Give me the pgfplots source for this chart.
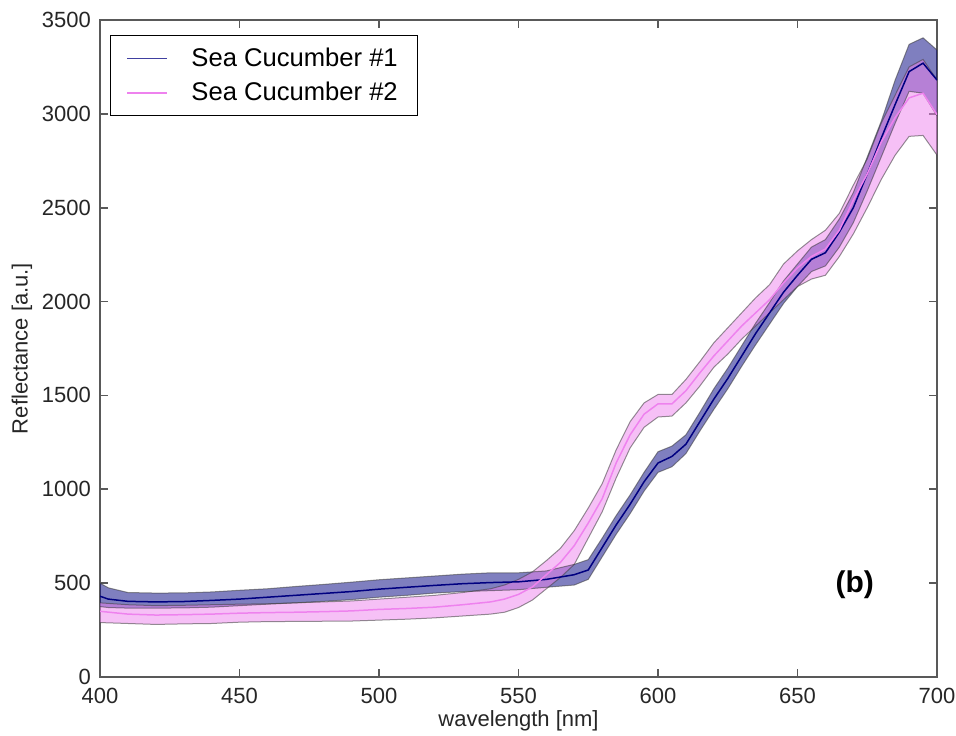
\documentclass[border=0pt]{standalone}
\usepackage{pgfplots}
\pgfplotsset{compat=1.18}
\usepackage{pgfplotstable}
\usepgfplotslibrary{fillbetween}
\usepackage{fontspec}
\setmainfont{Liberation Sans}
\definecolor{navyc}{RGB}{0,0,128}
\definecolor{violetc}{RGB}{238,130,238}
\definecolor{edgec}{RGB}{60,60,60}

\pgfplotstableread{
x m lo hi
400 430 375 500
403 415 370 475
410 403 367 450
420 400 367 447
430 402 368 448
440 408 372 453
450 415 380 462
460 425 388 470
470 435 395 482
480 445 403 493
490 455 412 505
500 468 425 518
510 478 435 528
520 488 447 538
530 497 455 548
540 503 460 555
550 507 465 555
560 520 478 565
570 545 490 600
575 570 520 625
580 690 640 740
585 810 760 860
590 920 870 970
595 1040 990 1090
600 1140 1090 1200
605 1175 1120 1230
610 1240 1190 1290
615 1360 1310 1410
620 1480 1425 1535
625 1590 1535 1645
630 1710 1655 1765
635 1830 1770 1885
640 1940 1880 1995
645 2050 1990 2110
650 2140 2080 2200
655 2225 2160 2290
660 2260 2190 2330
665 2370 2290 2440
670 2500 2420 2580
675 2680 2590 2770
680 2870 2770 2960
685 3050 2950 3180
690 3225 3120 3370
695 3270 3110 3405
700 3180 2990 3340
}\navydata

\pgfplotstableread{
x m lo hi
400 350 290 395
410 335 285 385
420 330 280 380
430 332 283 382
440 335 285 385
450 340 292 388
460 343 295 390
470 345 296 395
480 348 297 400
490 352 298 405
500 360 303 415
510 365 308 425
520 372 315 435
530 385 325 450
540 400 335 470
545 415 345 490
550 440 370 520
555 480 410 560
560 545 470 620
565 610 530 685
570 700 600 780
575 820 740 900
580 950 880 1030
585 1140 1060 1210
590 1290 1220 1360
595 1400 1330 1460
600 1455 1385 1505
605 1455 1390 1505
610 1525 1460 1585
615 1620 1550 1680
620 1710 1650 1780
625 1790 1720 1860
630 1870 1800 1940
635 1940 1870 2020
640 2010 1940 2090
645 2100 2010 2200
650 2180 2080 2270
655 2240 2120 2330
660 2280 2140 2380
665 2380 2240 2470
670 2540 2360 2620
675 2680 2500 2760
680 2850 2650 2950
685 2980 2780 3100
690 3085 2880 3250
695 3110 2885 3290
700 2995 2780 3180
}\pinkdata

\begin{document}
\begin{tikzpicture}
\begin{axis}[
  scale only axis,
  width=418.5pt, height=328.5pt,
  xmin=400, xmax=700, ymin=0, ymax=3500,
  xtick={400,450,...,700}, ytick={0,500,...,3500},
  tick align=inside, xtick pos=both, ytick pos=both,
  major tick length=4pt,
  axis line style={line width=1pt, black!65},
  every tick/.style={black!65, line width=0.8pt},
  /pgf/number format/assume math mode=true,
  /pgf/number format/1000 sep={},
  tick label style={font=\fontsize{11}{13}\selectfont, black!85},
  yticklabel style={xshift=-1pt},
  xticklabel style={yshift=-2pt},
  label style={font=\fontsize{11}{13}\selectfont, black!85},
  xlabel={wavelength [nm]}, ylabel={Reflectance [a.u.]},
  xlabel style={yshift=3.5pt}, ylabel style={yshift=-2pt},
  legend style={at={(axis description cs:0.012,0.977)}, anchor=north west,
    draw=black, line width=0.6pt, font=\fontsize{12.8}{15}\selectfont,
    inner xsep=8pt, inner ysep=4pt, row sep=2.5pt, cells={anchor=west}},
  legend image code/.code={\draw[#1] (0pt,0pt) -- (20pt,0pt); \path[draw=none] (20pt,0pt) -- (30pt,0pt);},
  legend cell align=left,
]
% navy band
\addplot[draw=edgec, draw opacity=0.55, line width=0.5pt, name path=nhi, forget plot] table[x=x,y=hi]{\navydata};
\addplot[draw=edgec, draw opacity=0.55, line width=0.5pt, name path=nlo, forget plot] table[x=x,y=lo]{\navydata};
\addplot[fill=navyc, fill opacity=0.5, draw=none, forget plot] fill between[of=nhi and nlo];
% pink band
\addplot[draw=edgec, draw opacity=0.55, line width=0.5pt, name path=phi, forget plot] table[x=x,y=hi]{\pinkdata};
\addplot[draw=edgec, draw opacity=0.55, line width=0.5pt, name path=plo, forget plot] table[x=x,y=lo]{\pinkdata};
\addplot[fill=violetc, fill opacity=0.5, draw=none, forget plot] fill between[of=phi and plo];
% mean lines
\addplot[navyc, line width=0.75pt, forget plot] table[x=x,y=m]{\navydata};
\addplot[violetc, line width=0.75pt, forget plot] table[x=x,y=m]{\pinkdata};
\addlegendimage{navyc!75!white, line width=0.8pt}
\addlegendentry{Sea Cucumber \#1}
\addlegendimage{violetc, line width=0.8pt}
\addlegendentry{Sea Cucumber \#2}
\node[font=\fontsize{15}{17}\bfseries] at (axis cs:670.5,490) {(b)};
\end{axis}
\path (current axis.south west) ++(-50pt,-29.5pt) coordinate (bbA);
\path (current axis.north east) ++(9.5pt,10pt) coordinate (bbB);
\pgfresetboundingbox
\path (bbA) rectangle (bbB);
\end{tikzpicture}
\end{document}
